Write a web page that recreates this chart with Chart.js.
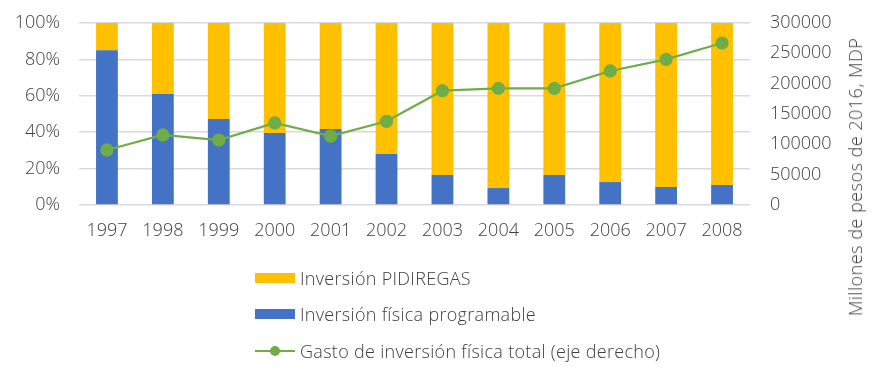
<!DOCTYPE html>
<html>
<head>
<meta charset="utf-8">
<script src="https://cdn.jsdelivr.net/npm/chart.js@4/dist/chart.umd.min.js"></script>
<style>
  html, body { margin: 0; padding: 0; background: #fff; }
  #wrap { position: relative; width: 890px; height: 381px; overflow: hidden; font-family: 'Open Sans', sans-serif; font-weight: 300; color: #404040; }
  #c { position: absolute; left: 0; top: 0; }
  .leg { position: absolute; left: 255px; height: 24px; display: flex; align-items: center; font-size: 18px; letter-spacing: 0.3px; white-space: nowrap; }
  .sw { width: 40px; height: 10px; margin-right: 5px; position: relative; }
  .ln { width: 40px; height: 2px; background: #70AD47; margin-right: 5px; position: relative; }
  .ln::after { content: ''; position: absolute; left: 15px; top: -4px; width: 10px; height: 10px; border-radius: 50%; background: #70AD47; }
  #rtitle { position: absolute; left: 855px; top: 177px; transform: translate(-50%, -50%) rotate(-90deg); font-size: 18px; letter-spacing: 0.5px; white-space: nowrap; }
</style>
</head>
<body>
<div id="wrap">
  <canvas id="c" width="890" height="381"></canvas>
  <div class="leg" style="top:266px"><div class="sw" style="background:#FFC000"></div><span>Inversión PIDIREGAS</span></div>
  <div class="leg" style="top:302px"><div class="sw" style="background:#4472C4"></div><span>Inversión física programable</span></div>
  <div class="leg" style="top:339px"><div class="ln"></div><span>Gasto de inversión física total (eje derecho)</span></div>
  <div id="rtitle">Millones de pesos de 2016, MDP</div>
</div>
<script>
const years = ['1997','1998','1999','2000','2001','2002','2003','2004','2005','2006','2007','2008'];
const programable = [85, 61, 47.3, 39.6, 41.8, 28, 16.5, 9.3, 16.5, 12.6, 9.9, 11];
const pidiregas = [15, 39, 52.7, 60.4, 58.2, 72, 83.5, 90.7, 83.5, 87.4, 90.1, 89];
const gastoTotal = [90700, 115400, 107100, 135200, 113700, 138000, 188400, 192300, 192300, 220900, 240100, 267000];
const leftTicks = [0, 20, 40, 60, 80, 100];
const rightTicks = [0, 50000, 100000, 150000, 200000, 250000, 300000];

const FONT = { family: "'Open Sans', sans-serif", size: 18, weight: 300 };
const TXT = '#404040';

new Chart(document.getElementById('c'), {
  data: {
    labels: years,
    datasets: [
      { type: 'line', label: 'Gasto de inversión física total (eje derecho)', data: gastoTotal, yAxisID: 'y2', order: 0,
        borderColor: '#70AD47', backgroundColor: '#70AD47', borderWidth: 2.25, pointRadius: 5.5, pointHoverRadius: 5.5,
        pointBackgroundColor: '#70AD47', pointBorderColor: '#70AD47', tension: 0 },
      { type: 'bar', label: 'Inversión física programable', data: programable, yAxisID: 'y', stack: 's', order: 1,
        backgroundColor: '#4472C4', barPercentage: 0.39, categoryPercentage: 1 },
      { type: 'bar', label: 'Inversión PIDIREGAS', data: pidiregas, yAxisID: 'y', stack: 's', order: 2,
        backgroundColor: '#FFC000', barPercentage: 0.39, categoryPercentage: 1 }
    ]
  },
  options: {
    responsive: false,
    animation: false,
    layout: { padding: { top: 23, left: 0, right: 0, bottom: 0 } },
    plugins: { legend: { display: false }, tooltip: { enabled: false } },
    scales: {
      x: {
        stacked: true,
        grid: { display: false, drawTicks: false },
        border: { display: false },
        ticks: { font: FONT, color: TXT, padding: 15, maxRotation: 0 },
        afterFit: (s) => { s.height = 176; }
      },
      y: {
        position: 'left',
        stacked: true,
        min: 0, max: 100,
        afterBuildTicks: (s) => { s.ticks = leftTicks.map(v => ({ value: v })); },
        grid: { color: '#D9D9D9', lineWidth: 1.5, drawTicks: false },
        border: { display: false },
        ticks: { font: FONT, color: TXT, padding: 19, callback: (v) => v + '%' },
        afterFit: (s) => { s.width = 79; s.paddingTop = 0; s.paddingBottom = 0; }
      },
      y2: {
        position: 'right',
        min: 0, max: 300000,
        afterBuildTicks: (s) => { s.ticks = rightTicks.map(v => ({ value: v })); },
        grid: { display: false, drawTicks: false },
        border: { display: false },
        ticks: { font: FONT, color: TXT, padding: 20, callback: (v) => String(v) },
        afterFit: (s) => { s.width = 140; s.paddingTop = 0; s.paddingBottom = 0; }
      }
    }
  }
});
</script>
</body>
</html>
